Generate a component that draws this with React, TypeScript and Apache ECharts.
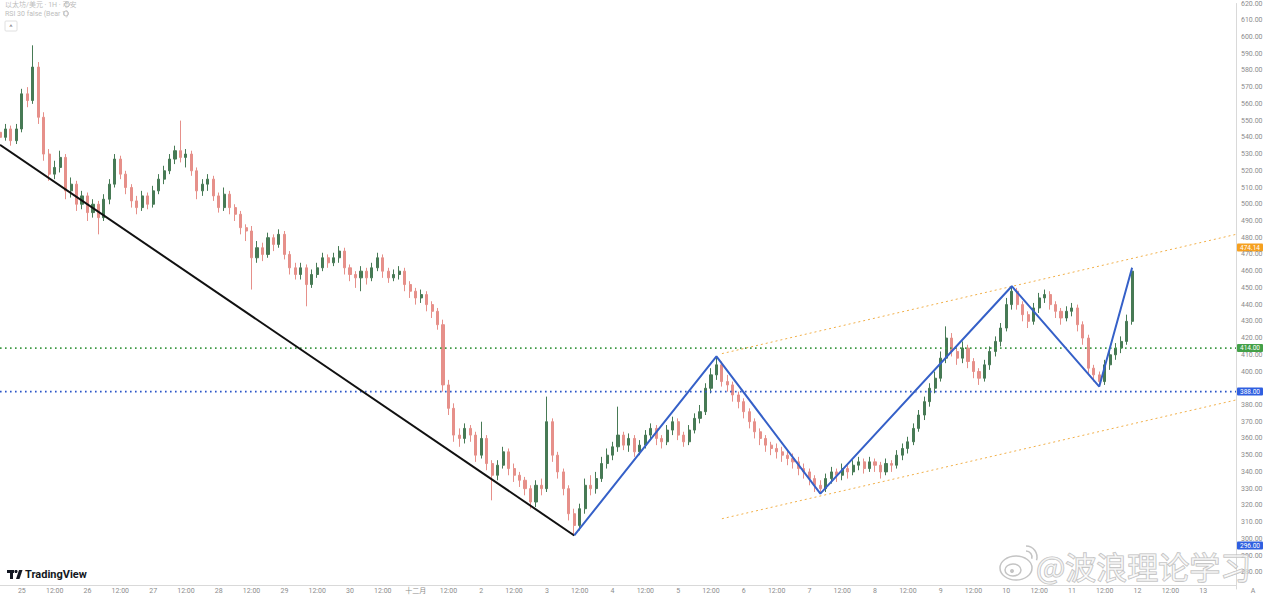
import React, { useEffect, useRef } from "react";
import * as echarts from "echarts";

// ---------- data ----------
// x axis: 2-hour slots starting 24 Nov 16:00
const dayLabels = ["25", "26", "27", "28", "29", "30", "十二月", "2", "3", "4", "5", "6", "7", "8", "9", "10", "11", "12", "13"];
const slotCount = 227;

// candles: [open, close, low, high]
const candles: number[][] = [
  [543, 540, 536, 548], [540, 545, 538, 548], [545, 538, 535, 547], [538, 545, 536, 548], [545, 566, 543, 569],
  [566, 562, 558, 570], [562, 582, 560, 595], [582, 552, 548, 585], [552, 530, 526, 555], [530, 518, 514, 533],
  [518, 522, 515, 526], [522, 528, 519, 532], [528, 508, 503, 530], [508, 512, 504, 516], [512, 500, 496, 514],
  [500, 505, 497, 508], [505, 495, 490, 507], [495, 500, 492, 503], [500, 492, 482, 502], [492, 503, 490, 506],
  [503, 512, 500, 515], [512, 527, 510, 530], [527, 518, 515, 529], [518, 510, 506, 520], [510, 502, 498, 512],
  [502, 498, 494, 505], [498, 505, 496, 508], [505, 500, 497, 507], [500, 508, 498, 511], [508, 515, 506, 518],
  [515, 520, 512, 523], [520, 527, 518, 530], [527, 532, 524, 535], [532, 528, 525, 550], [528, 530, 522, 533],
  [530, 520, 517, 532], [520, 508, 503, 522], [508, 512, 505, 515], [512, 515, 508, 518], [515, 505, 502, 517],
  [505, 498, 495, 507], [498, 506, 496, 510], [506, 498, 494, 508], [498, 494, 490, 500], [494, 486, 482, 496],
  [486, 484, 478, 488], [484, 468, 449, 487], [468, 474, 465, 478], [474, 470, 466, 477], [470, 480, 468, 483],
  [480, 476, 472, 482], [476, 482, 474, 485], [482, 470, 467, 484], [470, 462, 458, 472], [462, 458, 455, 465],
  [458, 462, 455, 465], [462, 452, 439, 464], [452, 458, 450, 461], [458, 462, 456, 465], [462, 468, 460, 471],
  [468, 465, 462, 470], [465, 468, 463, 471], [468, 472, 465, 475], [472, 462, 458, 474], [462, 458, 454, 464],
  [458, 456, 450, 460], [456, 460, 448, 463], [460, 456, 452, 462], [456, 462, 454, 465], [462, 468, 460, 471],
  [468, 460, 456, 470], [460, 456, 453, 462], [456, 458, 454, 461], [458, 460, 455, 463], [460, 452, 448, 462],
  [452, 448, 444, 454], [448, 444, 440, 450], [444, 446, 441, 449], [446, 440, 436, 448], [440, 436, 432, 442],
  [436, 428, 425, 438], [428, 392, 388, 431], [392, 378, 374, 395], [378, 362, 358, 381], [362, 360, 355, 366],
  [360, 366, 357, 369], [366, 362, 358, 368], [362, 350, 346, 364], [350, 360, 348, 370], [360, 345, 341, 362],
  [345, 338, 323, 347], [338, 344, 335, 347], [344, 352, 342, 355], [352, 342, 338, 354], [342, 338, 334, 345],
  [338, 335, 331, 340], [335, 330, 326, 337], [330, 322, 318, 332], [322, 332, 319, 335], [332, 330, 326, 336],
  [330, 370, 328, 385], [370, 350, 346, 372], [350, 340, 336, 352], [340, 330, 326, 342], [330, 315, 311, 332],
  [315, 308, 302, 318], [308, 318, 305, 321], [318, 332, 315, 336], [332, 330, 326, 338], [330, 336, 327, 340],
  [336, 345, 334, 349], [345, 350, 342, 354], [350, 355, 347, 358], [355, 362, 352, 379], [362, 356, 353, 364],
  [356, 360, 352, 363], [360, 352, 349, 362], [352, 356, 350, 359], [356, 362, 354, 365], [362, 366, 359, 369],
  [366, 360, 356, 368], [360, 358, 354, 362], [358, 365, 356, 368], [365, 370, 362, 373], [370, 362, 359, 372],
  [362, 358, 355, 364], [358, 365, 356, 368], [365, 372, 363, 375], [372, 376, 369, 380], [376, 390, 374, 393],
  [390, 398, 387, 402], [398, 404, 395, 409], [404, 394, 391, 406], [394, 392, 388, 398], [392, 386, 382, 394],
  [386, 382, 378, 388], [382, 376, 372, 384], [376, 370, 366, 378], [370, 364, 360, 372], [364, 360, 356, 366],
  [360, 356, 352, 362], [356, 354, 350, 358], [354, 352, 348, 357], [352, 350, 346, 355], [350, 348, 344, 353],
  [348, 346, 342, 351], [346, 342, 338, 349], [342, 340, 336, 345], [340, 336, 332, 342], [336, 332, 328, 338],
  [332, 330, 327, 335], [330, 336, 328, 339], [336, 340, 333, 343], [340, 338, 334, 342], [338, 342, 335, 345],
  [342, 340, 336, 344], [340, 344, 338, 347], [344, 346, 341, 349], [346, 342, 339, 348], [342, 346, 340, 349],
  [346, 344, 340, 348], [344, 340, 336, 346], [340, 345, 338, 348], [345, 344, 340, 347], [344, 350, 342, 353],
  [350, 354, 347, 357], [354, 358, 351, 361], [358, 366, 356, 369], [366, 374, 364, 377], [374, 382, 371, 385],
  [382, 390, 379, 393], [390, 396, 387, 400], [396, 408, 394, 412], [408, 420, 405, 427], [420, 412, 409, 423],
  [412, 408, 404, 415], [408, 414, 405, 418], [414, 406, 402, 416], [406, 400, 396, 408], [400, 396, 392, 402],
  [396, 404, 394, 407], [404, 412, 401, 415], [412, 418, 409, 421], [418, 426, 415, 429], [426, 440, 424, 444],
  [440, 448, 437, 451], [448, 440, 437, 450], [440, 434, 430, 442], [434, 430, 426, 436], [430, 438, 428, 441],
  [438, 444, 435, 447], [444, 446, 441, 449], [446, 440, 437, 448], [440, 436, 432, 442], [436, 432, 428, 438],
  [432, 436, 430, 439], [436, 438, 433, 441], [438, 428, 424, 440], [428, 420, 416, 430], [420, 402, 398, 422],
  [402, 398, 394, 404], [398, 394, 391, 400], [394, 404, 392, 407], [404, 410, 401, 413], [410, 414, 407, 417],
  [414, 418, 411, 421], [418, 430, 416, 434], [430, 460, 428, 462],
];

// drawings, in [slot index, price]
const trendDown = [[0, 535.5], [105, 302]];
const waveLine = [[105, 302], [131, 409], [150, 327], [185, 451], [201, 391], [207, 462]];
const channelUpper = [[132, 410.7], [226, 482]];
const channelLower = [[132, 312], [226, 383]];
const greenLevel = 414;
const blueLevel = 388;
const priceTags = [
  { value: 474.14, text: "474.14", color: "#f5a01f" },
  { value: 414, text: "414.00", color: "#43a047" },
  { value: 388, text: "388.00", color: "#2f5fe0" },
  { value: 296, text: "296.00", color: "#2f5fe0" },
];
const hiddenTicks = [390]; // covered by a price tag in the reference
const yMin = 270;
const yMax = 620;
const yStep = 10;

function slotInfo(i: number) {
  const totalH = 16 + 2 * i;
  return { day: Math.floor(totalH / 24), hour: totalH % 24 };
}

const categories = Array.from({ length: slotCount }, (_, i) => {
  const s = slotInfo(i);
  return `${s.day}|${s.hour}`;
});

export default function App() {
  const ref = useRef<HTMLDivElement>(null);
  useEffect(() => {
    if (!ref.current) return;
    const chart = echarts.init(ref.current, undefined, { renderer: "svg" });
    const font = "Roboto, 'Noto Sans CJK SC', sans-serif";
    const option: any = {
      animation: false,
      backgroundColor: "#ffffff",
      textStyle: { fontFamily: font },
      grid: { left: 0, right: 33, top: 1, bottom: 11, containLabel: false },
      xAxis: {
        type: "category",
        data: categories,
        boundaryGap: false,
        offset: -4,
        axisLine: { show: true, lineStyle: { color: "#d9d9d9", width: 1 } },
        axisTick: { show: false },
        splitLine: { show: false },
        axisLabel: {
          margin: 2,
          fontSize: 7,
          color: "#8c8c8c",
          interval: (index: number) => {
            const s = slotInfo(index);
            return s.hour % 12 === 0 && index < slotCount - 3;
          },
          formatter: (value: string) => {
            const [d, h] = value.split("|").map(Number);
            if (h === 12) return "12:00";
            if (h === 0) return dayLabels[d - 1] ?? "";
            return "";
          },
        },
      },
      yAxis: {
        type: "value",
        position: "right",
        min: yMin,
        max: yMax,
        interval: yStep,
        scale: true,
        axisLine: { show: true, lineStyle: { color: "#d9d9d9" } },
        axisTick: { show: false },
        splitLine: { show: false },
        axisLabel: {
          margin: 5,
          fontSize: 7,
          color: "#8c8c8c",
          showMinLabel: false,
          formatter: (v: number) => (hiddenTicks.includes(Math.round(v)) ? "" : v.toFixed(2)),
        },
      },
      series: [
        {
          type: "candlestick",
          data: candles,
          barWidth: 2.6,
          itemStyle: {
            color: "#477a55",
            color0: "#e6908a",
            borderColor: "#477a55",
            borderColor0: "#e6908a",
            borderWidth: 1,
          },
          z: 2,
        },
        {
          type: "line",
          data: [[0, greenLevel], [slotCount - 1, greenLevel]],
          symbol: "none",
          lineStyle: { color: "#3f9a45", width: 1.6, type: [1.6, 3.4] },
          z: 3,
        },
        {
          type: "line",
          data: [[0, blueLevel], [slotCount - 1, blueLevel]],
          symbol: "none",
          lineStyle: { color: "#2a55c8", width: 1.6, type: [1.6, 3.4] },
          z: 3,
        },
        {
          type: "line",
          data: channelUpper,
          symbol: "none",
          lineStyle: { color: "#f2b04a", width: 1, type: [2, 3] },
          z: 3,
        },
        {
          type: "line",
          data: channelLower,
          symbol: "none",
          lineStyle: { color: "#f2b04a", width: 1, type: [2, 3] },
          z: 3,
        },
        {
          type: "line",
          data: trendDown,
          symbol: "none",
          lineStyle: { color: "#111111", width: 2 },
          z: 4,
        },
        {
          type: "line",
          data: waveLine,
          symbol: "none",
          lineStyle: { color: "#3560c8", width: 2 },
          z: 4,
        },
      ],
    };
    chart.setOption(option);

    const tagEls: any[] = priceTags.map((t) => {
      const py = chart.convertToPixel({ yAxisIndex: 0 }, t.value) as number;
      return {
        type: "group",
        x: 1237,
        y: py - 4,
        z: 20,
        children: [
          { type: "rect", shape: { x: 0, y: 0, width: 26, height: 8, r: 1 }, style: { fill: t.color } },
          {
            type: "text",
            x: 13,
            y: 4,
            style: { text: t.text, fill: "#ffffff", fontSize: 6.5, fontFamily: font, align: "center", verticalAlign: "middle" },
          },
        ],
      };
    });

    const gray = "#c4c4c4";
    chart.setOption({
      graphic: [
        // header
        { type: "text", x: 5, y: 1, style: { text: "以太坊/美元 · 1H · 币安", fill: "#bdbdbd", fontSize: 7, fontFamily: font } },
        { type: "circle", shape: { cx: 67, cy: 4.5, r: 2.5 }, style: { fill: "none", stroke: "#bdbdbd", lineWidth: 1 } },
        { type: "text", x: 5, y: 10, style: { text: "RSI 30 false (Bear 1)", fill: "#bdbdbd", fontSize: 7, fontFamily: font } },
        { type: "circle", shape: { cx: 66, cy: 13.5, r: 2.5 }, style: { fill: "none", stroke: "#bdbdbd", lineWidth: 1 } },
        { type: "rect", shape: { x: 5, y: 21, width: 12, height: 10, r: 1 }, style: { fill: "#fff", stroke: "#e0e0e0", lineWidth: 1 } },
        { type: "text", x: 11, y: 27, style: { text: "^", fill: "#777", fontSize: 8, align: "center", verticalAlign: "middle", fontFamily: font } },
        // TradingView logo
        { type: "rect", shape: { x: 7, y: 570, width: 7, height: 3 }, style: { fill: "#131722" } },
        { type: "rect", shape: { x: 10, y: 570, width: 3, height: 9 }, style: { fill: "#131722" } },
        { type: "circle", shape: { cx: 16, cy: 571.5, r: 1.6 }, style: { fill: "#131722" } },
        { type: "polygon", shape: { points: [[19, 570], [22.5, 570], [19.5, 579], [16, 579]] }, style: { fill: "#131722" } },
        { type: "text", x: 25, y: 574.5, style: { text: "TradingView", fill: "#131722", fontSize: 11, fontWeight: "bold", fontFamily: font, verticalAlign: "middle" } },
        // bottom-right corner
        { type: "text", x: 1253, y: 591, style: { text: "A", fill: "#8c8c8c", fontSize: 7, align: "center", verticalAlign: "middle", fontFamily: font } },
        // weibo watermark
        { type: "ellipse", shape: { cx: 1016, cy: 568, rx: 16, ry: 12 }, style: { fill: "rgba(255,255,255,0.5)", stroke: gray, lineWidth: 1.5 }, z: 30 },
        { type: "ellipse", shape: { cx: 1013, cy: 570, rx: 8, ry: 6 }, style: { fill: "none", stroke: gray, lineWidth: 1.5 }, z: 30 },
        { type: "circle", shape: { cx: 1012, cy: 571, r: 2 }, style: { fill: gray }, z: 30 },
        { type: "arc", shape: { cx: 1026, cy: 557, r: 6, startAngle: -Math.PI / 2, endAngle: 0.3 }, style: { stroke: gray, lineWidth: 1.5, fill: "none" }, z: 30 },
        { type: "arc", shape: { cx: 1026, cy: 557, r: 11, startAngle: -Math.PI / 2, endAngle: 0.3 }, style: { stroke: gray, lineWidth: 1.5, fill: "none" }, z: 30 },
        {
          type: "text",
          x: 1036,
          y: 565,
          z: 30,
          style: {
            text: "@波浪理论学习",
            fontSize: 31,
            fontFamily: "'Noto Sans CJK SC', sans-serif",
            fill: "rgba(255,255,255,0.55)",
            stroke: "#bdbdbd",
            lineWidth: 1.2,
            verticalAlign: "middle",
          },
        },
        ...tagEls,
      ],
    });

    return () => chart.dispose();
  }, []);
  return <div ref={ref} style={{ position: "fixed", left: 0, top: 0, width: 1269, height: 600 }} />;
}
